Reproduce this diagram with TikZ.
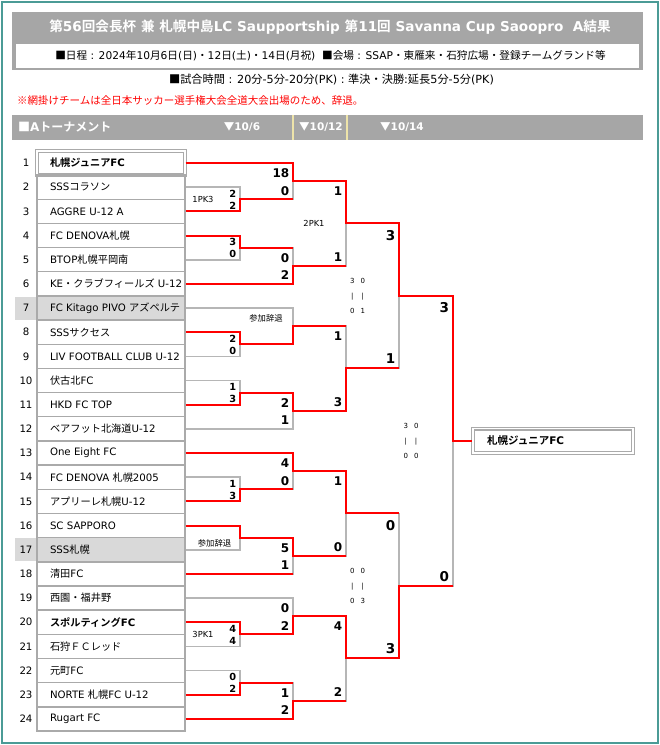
\documentclass[tikz,border=0pt]{standalone}
\usepackage{fontspec}
\setmainfont{DejaVu Sans}
\newfontfamily\jpfont{Noto Sans CJK JP}[BoldFont={Noto Sans CJK JP Bold}]
\XeTeXinterchartokenstate=1
\newXeTeXintercharclass\jpclass
\newcount\jpc
\def\jprange#1#2{\jpc=#1 \loop\XeTeXcharclass\jpc=\jpclass \ifnum\jpc<#2 \advance\jpc by 1 \repeat}
\jprange{"3000}{"9FFF}
\jprange{"FF00}{"FFEF}
\jprange{"25A0}{"25FF}
\XeTeXcharclass"203B=\jpclass
\XeTeXinterchartoks 0 \jpclass = {\jpfont}
\XeTeXinterchartoks 4095 \jpclass = {\jpfont}
\XeTeXinterchartoks \jpclass 0 = {\rmfamily}
\XeTeXinterchartoks \jpclass 4095 = {\rmfamily}
\usetikzlibrary{calc}
\definecolor{frameteal}{RGB}{75,155,150}
\definecolor{barg}{RGB}{166,166,166}
\definecolor{sepcream}{RGB}{238,228,170}
\definecolor{boxg}{RGB}{170,170,170}
\definecolor{lineg}{RGB}{182,182,182}
\definecolor{cellg}{RGB}{217,217,217}
\begin{document}
\begin{tikzpicture}[x=1pt, y=-1pt,
		declare function={ry(\k)=163+24.17*(\k-1);},
		team/.style={draw=boxg, line width=1.4pt, minimum width=148pt, minimum height=24.17pt, inner xsep=13pt, inner ysep=0pt, font=\fontsize{10.2}{12}\selectfont},
		topteam/.style={team, double=white, double distance=1.2pt, line width=1.1pt},
		outteam/.style={team, fill=cellg},
		num/.style={minimum width=22pt, minimum height=23pt, inner sep=0pt, font=\fontsize{10.2}{12}\selectfont},
		numout/.style={num, fill=cellg},
		gline/.style={draw=lineg, line width=1.7pt},
		rline/.style={draw=red, line width=2pt},
		sc1/.style={anchor=east, inner sep=0pt, font=\fontsize{9.8}{10}\selectfont\bfseries},
		sc2/.style={anchor=east, inner sep=0pt, font=\fontsize{12}{13}\selectfont\bfseries},
		sc3/.style={anchor=east, inner sep=0pt, font=\fontsize{13.5}{15}\selectfont\bfseries},
		note/.style={inner sep=0pt, font=\fontsize{8.3}{10}\selectfont},
		half/.style={align=center, inner sep=0pt, font=\fontsize{7}{15}\selectfont},
		hdr/.style={text=white, inner sep=0pt, font=\fontsize{10.5}{12}\selectfont\bfseries},
	]
	\useasboundingbox (0,0) rectangle (660,745);
	\draw[frameteal, line width=2pt] (2,2) rectangle (658,743);

	\fill[barg] (12,12) rectangle (643,70);
	\fill[white] (16,44) rectangle (639,67.5);
	\node[text=white, font=\fontsize{13.6}{16}\selectfont\bfseries] (title) at (330,27) {第56回会長杯 兼 札幌中島LC Saupportship 第11回 Savanna Cup Saoopro\ \ A結果};
	\node[font=\fontsize{10.65}{12}\selectfont] (sched) at (330.5,56) {■日程 : 2024年10月6日(日)・12日(土)・14日(月祝)\ \ ■会場 : SSAP・東雁来・石狩広場・登録チームグランド等};
	\node[font=\fontsize{11.2}{12}\selectfont] (times) at (331.5,80) {■試合時間 : 20分-5分-20分(PK) : 準決・決勝:延長5分-5分(PK)};
	\node[anchor=west, inner sep=0pt, text=red, font=\fontsize{10.5}{12}\selectfont] (remark) at (17,101) {※網掛けチームは全日本サッカー選手権大会全道大会出場のため、辞退。};

	\fill[barg] (12,115) rectangle (643,140);
	\draw[sepcream, line width=1.2pt] (293,115) -- (293,140) (347,115) -- (347,140);
	\node[hdr, anchor=west, font=\fontsize{12}{13}\selectfont\bfseries] (tname) at (18,127.5) {■Aトーナメント};
	\node[hdr] (day1) at (242,127.5) {▼10/6};
	\node[hdr] (day2) at (321,127.5) {▼10/12};
	\node[hdr] (day3) at (402,127.5) {▼10/14};

	\foreach \i in {1,...,6,8,9,...,16,18,19,...,24}
		\node[num] (n\i) at (26,{ry(\i)}) {\i};
	\foreach \i in {7,17}
		\node[numout] (n\i) at (26,{ry(\i)}) {\i};

	\foreach \i/\st/\nm in {
			1/topteam/{\bfseries 札幌ジュニアFC},
			2/team/SSSコラソン,
			3/team/AGGRE U-12 A,
			4/team/FC DENOVA札幌,
			5/team/BTOP札幌平岡南,
			6/team/KE・クラブフィールズ U-12,
			7/outteam/FC Kitago PIVO アズペルテ,
			8/team/SSSサクセス,
			9/team/LIV FOOTBALL CLUB U-12,
			10/team/伏古北FC,
			11/team/HKD FC TOP,
			12/team/ベアフット北海道U-12,
			13/team/One Eight FC,
			14/team/FC DENOVA 札幌2005,
			15/team/アプリーレ札幌U-12,
			16/team/SC SAPPORO,
			17/outteam/SSS札幌,
			18/team/清田FC,
			19/team/西園・福井野,
			20/team/{\bfseries スポルティングFC},
			21/team/石狩ＦＣレッド,
			22/team/元町FC,
			23/team/NORTE 札幌FC U-12,
			24/team/Rugart FC}
		\node[\st] (t\i) at (111,{ry(\i)}) {\makebox[122pt][l]{\nm}};

	\node[topteam, minimum width=160pt, inner xsep=14pt, font=\fontsize{10.5}{12}\selectfont\bfseries] (champ) at (553,{ry(12.5)}) {\makebox[132pt][l]{札幌ジュニアFC}};

	\foreach \n/\x/\k in {r1a/240/2.5, r1b/240/4.5, r1c/240/8.5, r1d/240/10.5, r1e/240/14.5, r1f/240/16.5, r1g/240/20.5, r1h/240/22.5,
			r2a/293/1.75, r2b/293/5.25, r2c/293/7.75, r2d/293/11.25, r2e/293/13.75, r2f/293/17.25, r2g/293/19.75, r2h/293/23.25,
			r3a/346/3.5, r3b/346/9.5, r3c/346/15.5, r3d/346/21.5,
			sfa/399/6.5, sfb/399/18.5, fin/452.7/12.5}
		\coordinate (\n) at (\x,{ry(\k)});

	\foreach \a/\b in {t2.east/r1a, t3.east/r1a, t4.east/r1b, t5.east/r1b, t8.east/r1c, t9.east/r1c, t10.east/r1d, t11.east/r1d,
			t14.east/r1e, t15.east/r1e, t16.east/r1f, t17.east/r1f, t20.east/r1g, t21.east/r1g, t22.east/r1h, t23.east/r1h,
			t1.east/r2a, r1a/r2a, r1b/r2b, t6.east/r2b, t7.east/r2c, r1c/r2c, r1d/r2d, t12.east/r2d,
			t13.east/r2e, r1e/r2e, r1f/r2f, t18.east/r2f, t19.east/r2g, r1g/r2g, r1h/r2h, t24.east/r2h,
			r2a/r3a, r2b/r3a, r2c/r3b, r2d/r3b, r2e/r3c, r2f/r3c, r2g/r3d, r2h/r3d,
			r3a/sfa, r3b/sfa, r3c/sfb, r3d/sfb, sfa/fin, sfb/fin}
		\draw[gline] (\a) -| (\b);

	\draw[rline] (t1.east) -| (r2a) -| (r3a) -| (sfa) -| (fin) -- (champ.west);
	\draw[rline] (t3.east) -| (r1a) -- (r1a -| r2a);
	\draw[rline] (t4.east) -| (r1b) -- (r1b -| r2b);
	\draw[rline] (t6.east) -| (r2b) -- (r2b -| r3a);
	\draw[rline] (t8.east) -| (r1c) -| (r2c) -- (r2c -| r3b);
	\draw[rline] (t11.east) -| (r1d) -| (r2d) -| (r3b) -- (r3b -| sfa);
	\draw[rline] (t13.east) -| (r2e) -| (r3c) -- (r3c -| sfb);
	\draw[rline] (t15.east) -| (r1e) -- (r1e -| r2e);
	\draw[rline] (t16.east) -| (r1f) -| (r2f) -- (r2f -| r3c);
	\draw[rline] (t18.east) -- (t18.east -| r2f);
	\draw[rline] (t20.east) -| (r1g) -| (r2g) -| (r3d) -| (sfb) -- (sfb -| fin);
	\draw[rline] (t23.east) -| (r1h) -- (r1h -| r2h);
	\draw[rline] (t24.east) -| (r2h) -- (r2h -| r3d);

	\foreach \m/\a/\b in {r1a/2/2, r1b/3/0, r1c/2/0, r1d/1/3, r1e/1/3, r1g/4/4, r1h/0/2} {
		\node[sc1] (\m-a) at ($(\m)+(-3.5,-5.5)$) {\a};
		\node[sc1] (\m-b) at ($(\m)+(-3.5,6.5)$) {\b};
	}
	\foreach \m/\a/\b in {r2a/18/0, r2b/0/2, r2d/2/1, r2e/4/0, r2f/5/1, r2g/0/2, r2h/1/2} {
		\node[sc2] (\m-a) at ($(\m)+(-3.5,-8)$) {\a};
		\node[sc2] (\m-b) at ($(\m)+(-3.5,9.5)$) {\b};
	}
	\foreach \m/\a/\b in {r3a/1/1, r3b/1/3, r3c/1/0, r3d/4/2} {
		\node[sc2] (\m-a) at ($(\m)+(-3.5,-32.5)$) {\a};
		\node[sc2] (\m-b) at ($(\m)+(-3.5,33.3)$) {\b};
	}
	\foreach \m/\a/\b in {sfa/3/1, sfb/0/3} {
		\node[sc3] (\m-a) at ($(\m)+(-3.5,-60.5)$) {\a};
		\node[sc3] (\m-b) at ($(\m)+(-3.5,63)$) {\b};
	}
	\node[sc3] (fin-a) at ($(fin)+(-3.5,-133.3)$) {3};
	\node[sc3] (fin-b) at ($(fin)+(-3.5,135.7)$) {0};

	\node[note] (pk1) at (203,{ry(2.5)}) {1PK3};
	\node[note] (pk2) at (203,{ry(20.5)}) {3PK1};
	\node[note] (pk3) at (314,{ry(3.5)}) {2PK1};
	\node[note] (wd1) at (266,318.3) {参加辞退};
	\node[note] (wd2) at (214.5,543.5) {参加辞退};

	\node[half] (ht1) at (357.5,{ry(6.5)}) {3\hspace{6pt}0\\|\hspace{8pt}|\\0\hspace{6pt}1};
	\node[half] (ht2) at (411,{ry(12.5)}) {3\hspace{6pt}0\\|\hspace{8pt}|\\0\hspace{6pt}0};
	\node[half] (ht3) at (357.5,{ry(18.5)}) {0\hspace{6pt}0\\|\hspace{8pt}|\\0\hspace{6pt}3};
\end{tikzpicture}
\end{document}
